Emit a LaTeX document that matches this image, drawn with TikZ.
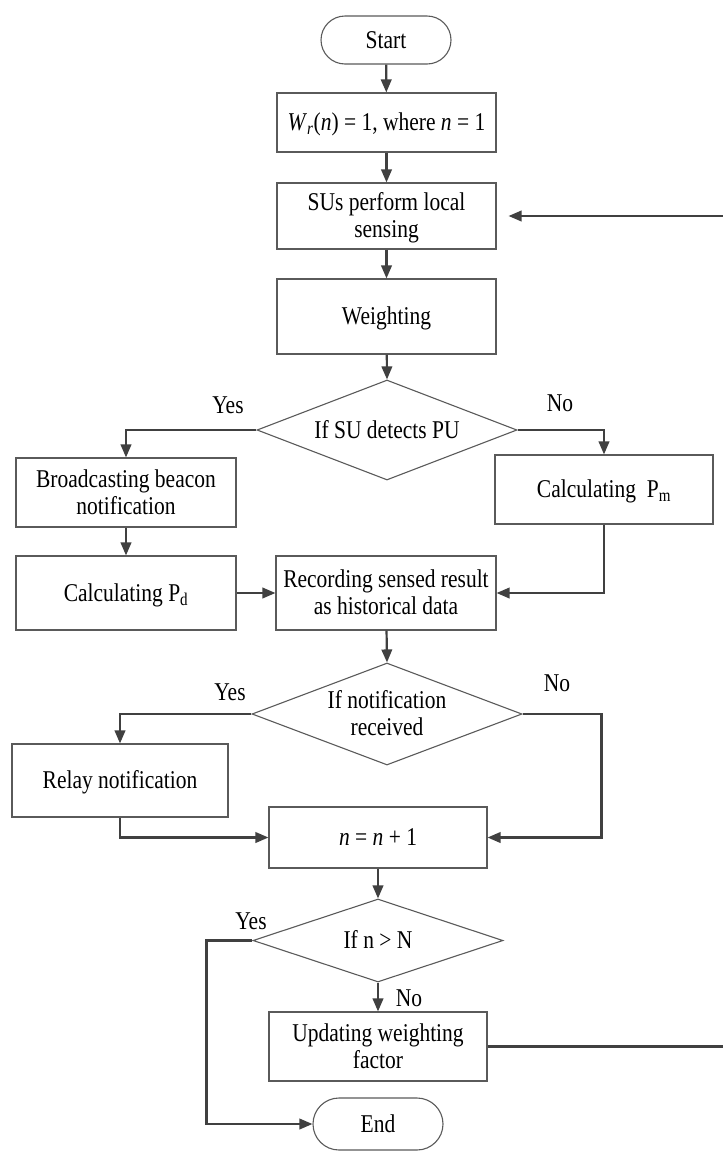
\documentclass[tikz,border=0pt]{standalone}
\usepackage{fontspec}
\usepackage{graphicx}
\setmainfont{Liberation Serif}
\usetikzlibrary{arrows.meta,shapes.geometric,calc}
\definecolor{boxgray}{HTML}{5A5A5A}
\definecolor{linegray}{HTML}{404040}
\newcommand\fz{\fontsize{21.5}{23}\selectfont}
\newcommand\st[1]{\raisebox{-2.8pt}[\height][\depth]{\scalebox{1}[1.19]{\begin{tabular}{@{}c@{}}#1\end{tabular}}}}
\begin{document}
\begin{tikzpicture}[x=1pt,y=-1pt,
  boxst/.style={draw=boxgray, line width=1.1pt, rectangle, inner sep=0pt, align=center, font=\fz},
  termst/.style={boxst, rounded corners=24pt},
  decst/.style={draw=boxgray, line width=1.1pt, diamond, aspect=2.6, inner sep=0pt, align=center, font=\fz},
  conn/.style={draw=linegray, line width=2.2pt, -{Triangle[length=13pt,width=10.5pt]}},
  lab/.style={font=\fz, inner sep=0pt}]
\useasboundingbox[fill=white] (0,0) rectangle (723,1152);
% nodes
\node[termst, minimum width=130pt, minimum height=48pt] (start) at (386,40) {\st{Start}};
\node[boxst, minimum width=219pt, minimum height=59pt] (b1) at (386.5,122.5) {\st{\textit{W}\textsubscript{\textit{r}}(\textit{n}) = 1, where \textit{n} = 1}};
\node[boxst, minimum width=219pt, minimum height=66pt] (b2) at (386.5,216) {\st{SUs perform local\\sensing}};
\node[boxst, minimum width=219pt, minimum height=75pt] (wt) at (386.5,316.5) {\st{Weighting}};
\node[decst, minimum width=260pt, minimum height=100pt] (d1) at (387,430) {\st{If SU detects PU}};
\node[boxst, minimum width=220pt, minimum height=69pt] (bc) at (126,492.5) {\st{Broadcasting beacon\\notification}};
\node[boxst, minimum width=218pt, minimum height=69pt] (pm) at (604,489.5) {\st{Calculating\ \ P\textsubscript{m}}};
\node[boxst, minimum width=220pt, minimum height=74pt] (pd) at (126,593) {\st{Calculating P\textsubscript{d}}};
\node[boxst, minimum width=220pt, minimum height=74pt] (rec) at (386,593) {\st{Recording sensed result\\as historical data}};
\node[decst, minimum width=270pt, minimum height=102pt] (d2) at (387,714) {\st{If notification\\received}};
\node[boxst, minimum width=216pt, minimum height=73pt] (rl) at (120,780.5) {\st{Relay notification}};
\node[boxst, minimum width=218pt, minimum height=61pt] (nb) at (378,837.5) {\st{\textit{n} = \textit{n} + 1}};
\node[decst, minimum width=250pt, minimum height=83pt] (d3) at (378,940.5) {\st{If n {\textgreater} N}};
\node[boxst, minimum width=218pt, minimum height=69pt] (up) at (378,1046.5) {\st{Updating weighting\\factor}};
\node[termst, minimum width=130pt, minimum height=52pt, rounded corners=26pt] (end) at (378,1124) {\st{End}};
% labels
\node[lab] (y1) at (228,405) {\st{Yes}};
\node[lab] (n1) at (560,403) {\st{No}};
\node[lab] (y2) at (230,692) {\st{Yes}};
\node[lab] (n2) at (557,683) {\st{No}};
\node[lab] (y3) at (251,921) {\st{Yes}};
\node[lab] (n3) at (409,998) {\st{No}};
\coordinate (fb) at (730,216);
% connectors
\draw[conn] (start) -- (b1);
\draw[conn] (b1) -- (b2);
\draw[conn] (b2) -- (wt);
\draw[conn] (wt) -- (d1.north);
\draw[conn] (d1.west) -| (bc.north);
\draw[conn] (d1.east) -| (pm.north);
\draw[conn] (bc) -- (pd);
\draw[conn] (pd) -- (rec);
\draw[conn] (pm.south) |- (rec.east);
\draw[conn] (rec) -- (d2.north);
\draw[conn] (d2.west) -| (rl.north);
\draw[conn] (rl.south) |- (nb.west);
\draw[conn] (d2.east) -- ++(79,0) |- (nb.east);
\draw[conn] (nb) -- (d3.north);
\draw[conn] (d3.south) -- (up.north);
\draw[conn] (d3.west) -- ++(-46,0) |- (end.west);
\draw[conn, shorten >=12pt] (up.east) -| (fb) -- (b2.east);
\end{tikzpicture}
\end{document}
